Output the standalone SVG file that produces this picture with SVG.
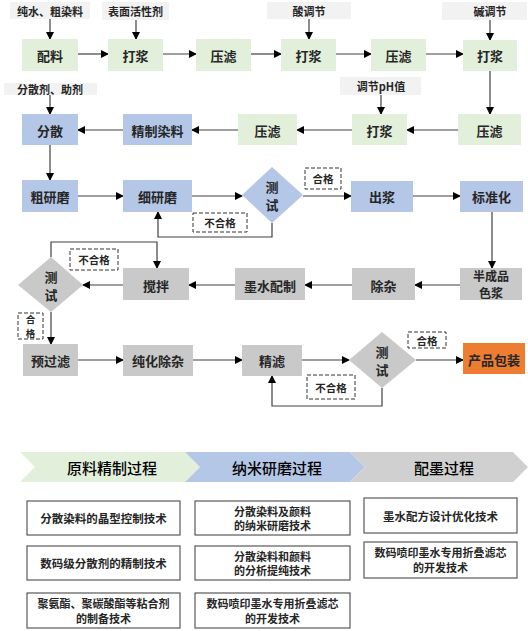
<svg xmlns="http://www.w3.org/2000/svg" width="528" height="631" viewBox="0 0 528 631">
<defs>
<marker id="ah" markerWidth="8" markerHeight="8" refX="7" refY="4" orient="auto" markerUnits="userSpaceOnUse">
<path d="M0,0 L8,4 L0,8 Z" fill="#000"/>
</marker>
<style>
text{font-family:"Noto Sans CJK SC","Noto Sans",sans-serif;fill:#262626;text-anchor:middle;dominant-baseline:central}
.n{font-size:13px;font-weight:700}
.n2{font-size:12px;font-weight:700}
.lb{font-size:11px;font-weight:700}
.sm{font-size:10.5px;font-weight:700}
.sv{font-size:9.5px;font-weight:700}
.tc{font-size:11.5px;font-weight:700}
.tc2{font-size:11px;font-weight:700}
.ch{font-size:15px;font-weight:500;fill:#000}
.g{fill:#e2efda}
.b{fill:#b4c7e7}
.y{fill:#c9c9c9}
.o{fill:#ed7d31}
.lab{fill:#f2f2f2}
.d{fill:#fff;stroke:#333;stroke-width:1;stroke-dasharray:4,2}
.t{fill:#fff;stroke:#595959;stroke-width:1.2}
.c{fill:none;stroke:#404040;stroke-width:1.2}
</style>
</defs>

<g id="inputs">
<g id="in1"><rect class="lab" x="10" y="2" width="80" height="17"/><text class="lb" x="50" y="11">纯水、粗染料</text></g>
<g id="in2"><rect class="lab" x="102" y="2" width="67" height="18"/><text class="lb" x="135.5" y="11">表面活性剂</text></g>
<g id="in3"><rect class="lab" x="267" y="2" width="84" height="17"/><text class="lb" x="309" y="11">酸调节</text></g>
<g id="in4"><rect class="lab" x="442" y="2" width="85" height="18"/><text class="lb" x="490" y="11">碱调节</text></g>
<g id="in5"><rect class="lab" x="340" y="77" width="81" height="18"/><text class="lb" x="381" y="86">调节pH值</text></g>
<g id="in6"><rect class="lab" x="4" y="83" width="93" height="12"/><text class="lb" x="50" y="89">分散剂、助剂</text></g>
</g>

<g id="connectors">
<line class="c" x1="50" y1="19" x2="50" y2="39" marker-end="url(#ah)"/>
<line class="c" x1="136" y1="20" x2="136" y2="39" marker-end="url(#ah)"/>
<line class="c" x1="309" y1="19" x2="309" y2="39" marker-end="url(#ah)"/>
<line class="c" x1="490" y1="20" x2="490" y2="40" marker-end="url(#ah)"/>
<line class="c" x1="78" y1="54" x2="108" y2="54" marker-end="url(#ah)"/>
<line class="c" x1="163" y1="54" x2="196" y2="54" marker-end="url(#ah)"/>
<line class="c" x1="251" y1="54" x2="281" y2="54" marker-end="url(#ah)"/>
<line class="c" x1="336" y1="54" x2="371" y2="54" marker-end="url(#ah)"/>
<line class="c" x1="426" y1="54" x2="463" y2="54" marker-end="url(#ah)"/>
<line class="c" x1="490" y1="70" x2="490" y2="114" marker-end="url(#ah)"/>
<line class="c" x1="381" y1="95" x2="381" y2="114" marker-end="url(#ah)"/>
<line class="c" x1="50" y1="95" x2="50" y2="114" marker-end="url(#ah)"/>
<line class="c" x1="458" y1="130" x2="407" y2="130" marker-end="url(#ah)"/>
<line class="c" x1="352" y1="130" x2="297" y2="130" marker-end="url(#ah)"/>
<line class="c" x1="238" y1="130" x2="192" y2="130" marker-end="url(#ah)"/>
<line class="c" x1="123" y1="130" x2="78" y2="130" marker-end="url(#ah)"/>
<line class="c" x1="50" y1="145" x2="50" y2="180" marker-end="url(#ah)"/>
<line class="c" x1="78" y1="196" x2="123" y2="196" marker-end="url(#ah)"/>
<line class="c" x1="192" y1="196" x2="242" y2="196" marker-end="url(#ah)"/>
<line class="c" x1="303" y1="196" x2="351" y2="196" marker-end="url(#ah)"/>
<line class="c" x1="413" y1="196" x2="460" y2="196" marker-end="url(#ah)"/>
<polyline class="c" points="272,223 272,237 158,237 158,212" marker-end="url(#ah)"/>
<line class="c" x1="492" y1="212" x2="492" y2="268" marker-end="url(#ah)"/>
<line class="c" x1="460" y1="285" x2="415" y2="285" marker-end="url(#ah)"/>
<line class="c" x1="352" y1="285" x2="305" y2="285" marker-end="url(#ah)"/>
<line class="c" x1="235" y1="285" x2="189" y2="285" marker-end="url(#ah)"/>
<line class="c" x1="123" y1="285" x2="83" y2="285" marker-end="url(#ah)"/>
<polyline class="c" points="51,257 51,242 157,242 157,268" marker-end="url(#ah)"/>
<line class="c" x1="51" y1="312" x2="51" y2="344" marker-end="url(#ah)"/>
<line class="c" x1="78" y1="360" x2="123" y2="360" marker-end="url(#ah)"/>
<line class="c" x1="193" y1="360" x2="242" y2="360" marker-end="url(#ah)"/>
<line class="c" x1="302" y1="360" x2="349" y2="360" marker-end="url(#ah)"/>
<line class="c" x1="416" y1="360" x2="463" y2="360" marker-end="url(#ah)"/>
<polyline class="c" points="382,388 382,406 272,406 272,376" marker-end="url(#ah)"/>
</g>

<g id="n-peiliao"><rect class="g" x="22" y="39" width="56" height="32"/><text class="n" x="50" y="55">配料</text></g>
<g id="n-dajiang1"><rect class="g" x="108" y="39" width="55" height="32"/><text class="n" x="135.5" y="55">打浆</text></g>
<g id="n-yalv1"><rect class="g" x="196" y="39" width="55" height="32"/><text class="n" x="223.5" y="55">压滤</text></g>
<g id="n-dajiang2"><rect class="g" x="281" y="39" width="55" height="32"/><text class="n" x="308.5" y="55">打浆</text></g>
<g id="n-yalv2"><rect class="g" x="371" y="39" width="55" height="32"/><text class="n" x="398.5" y="55">压滤</text></g>
<g id="n-dajiang3"><rect class="g" x="463" y="40" width="54" height="31"/><text class="n" x="490" y="55">打浆</text></g>

<g id="n-yalv3"><rect class="g" x="458" y="114" width="63" height="31"/><text class="n" x="489.5" y="130">压滤</text></g>
<g id="n-dajiang4"><rect class="g" x="352" y="114" width="55" height="31"/><text class="n" x="379.5" y="130">打浆</text></g>
<g id="n-yalv4"><rect class="g" x="238" y="114" width="59" height="31"/><text class="n" x="267.5" y="130">压滤</text></g>
<g id="n-jingzhi"><rect class="b" x="123" y="114" width="69" height="31"/><text class="n" x="157.5" y="130">精制染料</text></g>
<g id="n-fensan"><rect class="b" x="22" y="114" width="56" height="31"/><text class="n" x="50" y="130">分散</text></g>

<g id="n-cuyanmo"><rect class="b" x="22" y="180" width="56" height="32"/><text class="n" x="50" y="196">粗研磨</text></g>
<g id="n-xiyanmo"><rect class="b" x="123" y="180" width="69" height="32"/><text class="n" x="157.5" y="196">细研磨</text></g>
<g id="n-test1"><polygon class="b" points="272,167 303,195 272,223 242,195"/><text class="n" x="272" y="186.5">测</text><text class="n" x="272" y="204">试</text></g>
<g id="n-chujiang"><rect class="b" x="351" y="181" width="62" height="31"/><text class="n" x="382" y="196">出浆</text></g>
<g id="n-biaozhun"><rect class="b" x="460" y="181" width="63" height="31"/><text class="n" x="491.5" y="196">标准化</text></g>
<g id="l-hege1"><rect class="d" x="305" y="168" width="36" height="21"/><text class="sm" x="323" y="178.5">合格</text></g>
<g id="l-buhege1"><rect class="d" x="193" y="213" width="54" height="19"/><text class="sm" x="220" y="222.5">不合格</text></g>

<g id="n-banchengpin"><rect class="y" x="460" y="268" width="62" height="32"/><text class="n2" x="491" y="275.2">半成品</text><text class="n2" x="491" y="292.8">色浆</text></g>
<g id="n-chuza"><rect class="y" x="352" y="268" width="63" height="32"/><text class="n" x="383.5" y="285">除杂</text></g>
<g id="n-moshui"><rect class="y" x="235" y="268" width="70" height="32"/><text class="n" x="270" y="285">墨水配制</text></g>
<g id="n-jiaoban"><rect class="y" x="123" y="268" width="66" height="32"/><text class="n" x="156" y="285">搅拌</text></g>
<g id="n-test2"><polygon class="y" points="51,257 83,285 51,312 18,285"/><text class="n" x="51" y="276">测</text><text class="n" x="51" y="294">试</text></g>
<g id="l-buhege2"><rect class="d" x="70" y="249" width="48" height="21"/><text class="sm" x="94" y="259.5">不合格</text></g>
<g id="l-hege2"><rect class="d" x="18" y="313" width="25" height="26"/><text class="sv" x="30.5" y="319">合</text><text class="sv" x="30.5" y="333">格</text></g>

<g id="n-yuguolv"><rect class="y" x="23" y="344" width="55" height="32"/><text class="n" x="50.5" y="360">预过滤</text></g>
<g id="n-chunhua"><rect class="y" x="123" y="345" width="70" height="31"/><text class="n" x="158" y="360">纯化除杂</text></g>
<g id="n-jinglv"><rect class="y" x="242" y="345" width="60" height="31"/><text class="n" x="272" y="360">精滤</text></g>
<g id="n-test3"><polygon class="y" points="382,332 416,360 382,388 349,360"/><text class="n" x="382" y="351">测</text><text class="n" x="382" y="369">试</text></g>
<g id="n-baozhuang"><rect class="o" x="463" y="343" width="62" height="31"/><text class="n" x="494" y="359">产品包装</text></g>
<g id="l-hege3"><rect class="d" x="408" y="332" width="38" height="16"/><text class="sm" x="427" y="340">合格</text></g>
<g id="l-buhege3"><rect class="d" x="307" y="375" width="48" height="24"/><text class="sm" x="331" y="387">不合格</text></g>

<g id="stages">
<g id="s1"><polygon fill="#e2efda" points="20,452 185,452 200,467 185,482 20,482 35,467"/><text class="ch" x="112" y="467">原料精制过程</text></g>
<g id="s2"><polygon fill="#b4c7e7" points="185,452 350,452 365,467 350,482 185,482 200,467"/><text class="ch" x="277" y="467">纳米研磨过程</text></g>
<g id="s3"><polygon fill="#d0d0d0" points="350,452 513,452 528,467 513,482 350,482 365,467"/><text class="ch" x="444" y="467">配墨过程</text></g>
</g>

<g id="techs">
<g id="t1"><rect class="t" x="27" y="501" width="153" height="34"/><text class="tc" x="103.5" y="518">分散染料的晶型控制技术</text></g>
<g id="t2"><rect class="t" x="27" y="546" width="153" height="34"/><text class="tc" x="103.5" y="563">数码级分散剂的精制技术</text></g>
<g id="t3"><rect class="t" x="27" y="593" width="153" height="35"/><text class="tc2" x="103.5" y="603">聚氨酯、聚碳酸酯等粘合剂</text><text class="tc2" x="103.5" y="617.5">的制备技术</text></g>
<g id="t4"><rect class="t" x="195" y="501" width="155" height="34"/><text class="tc2" x="272.5" y="510.5">分散染料及颜料</text><text class="tc2" x="272.5" y="525">的纳米研磨技术</text></g>
<g id="t5"><rect class="t" x="195" y="546" width="155" height="34"/><text class="tc2" x="272.5" y="555.5">分散染料和颜料</text><text class="tc2" x="272.5" y="570">的分析提纯技术</text></g>
<g id="t6"><rect class="t" x="195" y="593" width="155" height="35"/><text class="tc2" x="272.5" y="603">数码喷印墨水专用折叠滤芯</text><text class="tc2" x="272.5" y="617.5">的开发技术</text></g>
<g id="t7"><rect class="t" x="364" y="498" width="153" height="35"/><text class="tc" x="440.5" y="515.5">墨水配方设计优化技术</text></g>
<g id="t8"><rect class="t" x="364" y="542" width="153" height="36"/><text class="tc2" x="440.5" y="552">数码喷印墨水专用折叠滤芯</text><text class="tc2" x="440.5" y="566.5">的开发技术</text></g>
</g>
</svg>
